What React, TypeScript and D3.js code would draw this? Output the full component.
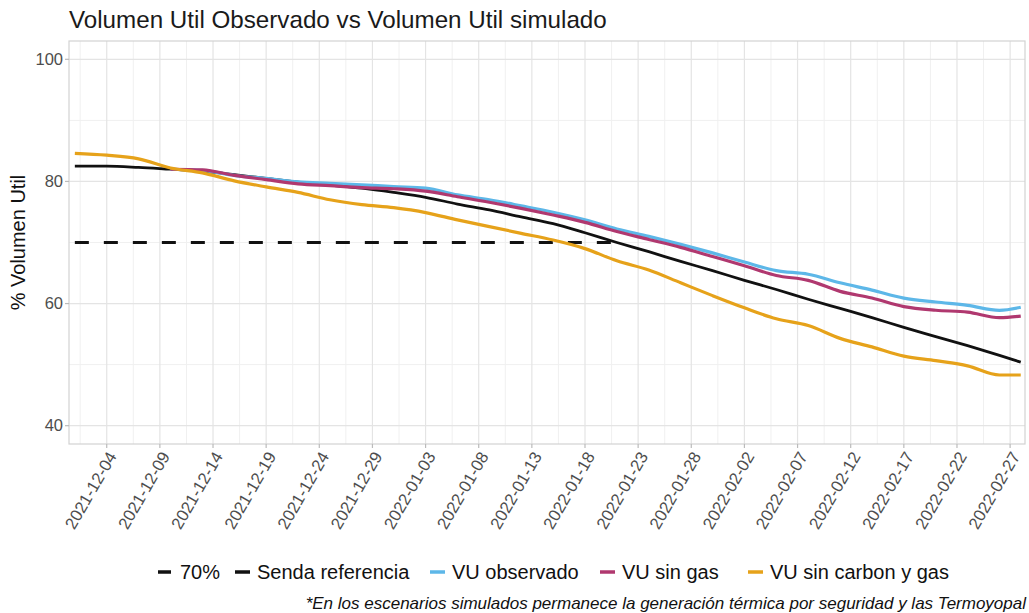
import React from "react";
import * as d3 from "d3";

const fechas = ["2021-12-01","2021-12-04","2021-12-07","2021-12-10","2021-12-13","2021-12-16","2021-12-19","2021-12-22","2021-12-25","2021-12-28","2021-12-31","2022-01-03","2022-01-06","2022-01-09","2022-01-12","2022-01-15","2022-01-18","2022-01-21","2022-01-24","2022-01-27","2022-01-30","2022-02-02","2022-02-05","2022-02-08","2022-02-11","2022-02-14","2022-02-17","2022-02-20","2022-02-23","2022-02-26","2022-02-28"];

const sendaReferencia = [82.5, 82.5, 82.3, 82.0, 81.7, 81.1, 80.5, 79.9, 79.4, 78.9, 78.2, 77.4, 76.3, 75.35, 74.2, 73.1, 71.6, 70.0, 68.5, 66.9, 65.4, 63.8, 62.3, 60.7, 59.2, 57.7, 56.1, 54.6, 53.1, 51.5, 50.4];

const vuObservado = [null, null, null, 82.0, 81.8, 81.0, 80.5, 79.95, 79.7, 79.45, 79.15, 78.9, 77.8, 77.0, 76.0, 74.95, 73.7, 72.2, 71.0, 69.7, 68.3, 66.8, 65.4, 64.8, 63.4, 62.2, 60.9, 60.25, 59.7, 58.9, 59.4];

const vuSinGas = [null, null, null, 82.0, 81.9, 81.0, 80.3, 79.6, 79.3, 79.0, 78.8, 78.4, 77.5, 76.6, 75.6, 74.5, 73.3, 71.8, 70.5, 69.2, 67.7, 66.2, 64.6, 63.8, 62.0, 60.9, 59.5, 58.9, 58.6, 57.7, 57.95];

const vuSinCarbonGas = [84.6, 84.3, 83.7, 82.2, 81.4, 80.1, 79.1, 78.2, 77.0, 76.2, 75.7, 74.9, 73.7, 72.6, 71.5, 70.4, 69.0, 67.0, 65.5, 63.4, 61.3, 59.3, 57.5, 56.4, 54.3, 52.9, 51.4, 50.65, 49.8, 48.3, 48.3];

const umbralFechas = ["2021-12-01", "2022-01-21"];
const umbralValores = [70, 70];

const xTickLabels = ["2021-12-04","2021-12-09","2021-12-14","2021-12-19","2021-12-24","2021-12-29","2022-01-03","2022-01-08","2022-01-13","2022-01-18","2022-01-23","2022-01-28","2022-02-02","2022-02-07","2022-02-12","2022-02-17","2022-02-22","2022-02-27"];
const yTicks = [40, 60, 80, 100];
const yMinor = [50, 70, 90];

const legendLabels = ["70%", "Senda referencia", "VU observado", "VU sin gas", "VU sin carbon y gas"];

const FONT = "'Liberation Sans', Arial, Helvetica, sans-serif";
const COLORS = { umbral: "#111111", senda: "#111111", obs: "#5DB7E8", gas: "#B0386F", carbon: "#E6A21A" };

const W = 1029, H = 613;
const P = { left: 69, right: 1025, top: 41, bottom: 444 };
const DAY = 86400000;
const parse = (s: string) => new Date(s + "T00:00:00Z");

export default function App() {
  const x = d3.scaleUtc()
    .domain([new Date(parse("2021-12-01").getTime() - 0.55 * DAY), new Date(parse("2021-12-01").getTime() + 89.4 * DAY)])
    .range([P.left, P.right]);
  const y = d3.scaleLinear().domain([37, 103]).range([P.bottom, P.top]);

  const line = d3.line<[Date, number | null]>()
    .defined(d => d[1] !== null)
    .x(d => x(d[0]))
    .y(d => y(d[1] as number))
    .curve(d3.curveMonotoneX);

  const mk = (vals: (number | null)[]) => fechas.map((f, i) => [parse(f), vals[i]] as [Date, number | null]);
  const umbral = umbralFechas.map((f, i) => [parse(f), umbralValores[i]] as [Date, number | null]);

  const majorDates = xTickLabels.map(parse);
  const minorDates: Date[] = [];
  majorDates.forEach(d => {
    [-2.5, 2.5].forEach(o => {
      const m = new Date(d.getTime() + o * DAY);
      const px = x(m);
      if (px > P.left && px < P.right && !minorDates.some(q => q.getTime() === m.getTime())) minorDates.push(m);
    });
  });

  const legendKeyX = [158, 235, 430, 600, 748];
  const legendColors = [COLORS.umbral, COLORS.senda, COLORS.obs, COLORS.gas, COLORS.carbon];
  const legendY = 572;

  return (
    <svg width={W} height={H} style={{ position: "absolute", left: 0, top: 0, background: "#fff" }} fontFamily={FONT}>
      <rect x={0} y={0} width={W} height={H} fill="#ffffff" />
      <text x={69} y={28} fontSize={24.2} fill="#1a1a1a">Volumen Util Observado vs Volumen Util simulado</text>

      {/* grid */}
      {minorDates.map((d, i) => (
        <line key={"xm" + i} x1={x(d)} x2={x(d)} y1={P.top} y2={P.bottom} stroke="#F0F0F0" strokeWidth={1} />
      ))}
      {yMinor.map(v => (
        <line key={"ym" + v} x1={P.left} x2={P.right} y1={y(v)} y2={y(v)} stroke="#F0F0F0" strokeWidth={1} />
      ))}
      {majorDates.map((d, i) => (
        <line key={"xg" + i} x1={x(d)} x2={x(d)} y1={P.top} y2={P.bottom} stroke="#E4E4E4" strokeWidth={1.2} />
      ))}
      {yTicks.map(v => (
        <line key={"yg" + v} x1={P.left} x2={P.right} y1={y(v)} y2={y(v)} stroke="#E4E4E4" strokeWidth={1.2} />
      ))}

      {/* lines */}
      <path d={line(umbral) || ""} fill="none" stroke={COLORS.umbral} strokeWidth={3.2} strokeDasharray="14 15" />
      <path d={line(mk(sendaReferencia)) || ""} fill="none" stroke={COLORS.senda} strokeWidth={2.8} />
      <path d={line(mk(vuObservado)) || ""} fill="none" stroke={COLORS.obs} strokeWidth={3.2} />
      <path d={line(mk(vuSinGas)) || ""} fill="none" stroke={COLORS.gas} strokeWidth={3.2} />
      <path d={line(mk(vuSinCarbonGas)) || ""} fill="none" stroke={COLORS.carbon} strokeWidth={3.2} />

      <rect x={P.left} y={P.top} width={P.right - P.left} height={P.bottom - P.top} fill="none" stroke="#D2D2D2" strokeWidth={1.2} />

      {/* y axis */}
      {yTicks.map(v => (
        <g key={"yt" + v}>
          <line x1={P.left - 4} x2={P.left} y1={y(v)} y2={y(v)} stroke="#BBBBBB" strokeWidth={1.2} />
          <text x={P.left - 6} y={y(v)} dy="0.35em" textAnchor="end" fontSize={16.5} fill="#4D4D4D">{v}</text>
        </g>
      ))}
      <text transform={`translate(25, ${(P.top + P.bottom) / 2}) rotate(-90)`} textAnchor="middle" fontSize={20} fill="#111">% Volumen Util</text>

      {/* x axis */}
      {majorDates.map((d, i) => (
        <g key={"xt" + i}>
          <line x1={x(d)} x2={x(d)} y1={P.bottom} y2={P.bottom + 4} stroke="#BBBBBB" strokeWidth={1.2} />
          <text transform={`translate(${x(d)}, ${P.bottom + 6}) rotate(-60)`} textAnchor="end" dy="0.72em" fontSize={16.8} fill="#4D4D4D">{xTickLabels[i]}</text>
        </g>
      ))}

      {/* legend */}
      {legendLabels.map((lab, i) => (
        <g key={"lg" + i}>
          <line x1={legendKeyX[i]} x2={legendKeyX[i] + (i === 0 ? 13 : 15)} y1={legendY} y2={legendY} stroke={legendColors[i]} strokeWidth={3.5} />
          <text x={legendKeyX[i] + 22} y={legendY} dy="0.36em" fontSize={20} fill="#111">{lab}</text>
        </g>
      ))}

      <text x={1026} y={609} textAnchor="end" fontSize={17} fontStyle="italic" fill="#111">*En los escenarios simulados permanece la generación térmica por seguridad y las Termoyopal</text>
    </svg>
  );
}
